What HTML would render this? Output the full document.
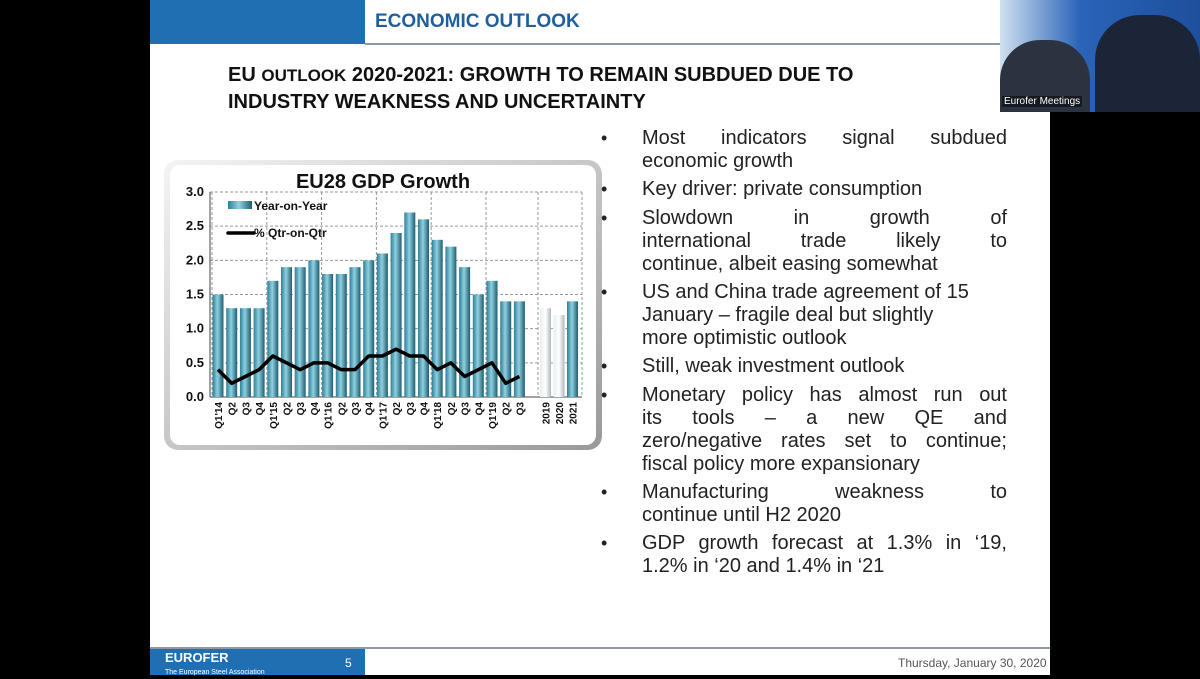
<!DOCTYPE html>
<html><head><meta charset="utf-8"><style>
body{margin:0;width:1200px;height:675px;background:#000;position:relative;overflow:hidden;font-family:"Liberation Sans",sans-serif}
.abs{position:absolute}
#slide{left:150px;top:0;width:900px;height:675px;background:#fff}
.ln{position:absolute;left:642px;width:365px;font-size:20px;line-height:23px;color:#222;white-space:nowrap}
.j{text-align:justify;text-align-last:justify}
.b{position:absolute;left:601px;font-size:18px;color:#222;line-height:23px}
</style></head><body>
<div id="slide" class="abs"></div>
<div class="abs" style="left:150px;top:0;width:215px;height:44px;background:#1f6fb2"></div>
<div class="abs" style="left:365px;top:43px;width:635px;height:2px;background:#8a9aa8"></div>
<div class="abs" style="left:375px;top:11px;font-size:19px;font-weight:bold;color:#1f5f9e;font-family:'Liberation Sans Narrow','Liberation Sans',sans-serif">ECONOMIC OUTLOOK</div>
<div class="abs" style="left:228px;top:62px;font-size:20px;line-height:26px;font-weight:bold;color:#111;font-family:'Liberation Sans Narrow','Liberation Sans',sans-serif">EU <span style="font-size:17px">OUTLOOK</span> 2020-2021: GROWTH TO REMAIN SUBDUED DUE TO<br>INDUSTRY WEAKNESS AND UNCERTAINTY</div>

<div class="abs" style="left:1000px;top:0;width:200px;height:112px;background:linear-gradient(90deg,#cfe0f0,#2a64b8 40%,#1d4f9c)">
 <div class="abs" style="left:0;top:40px;width:90px;height:72px;background:#2b3340;border-radius:40px 40px 0 0"></div>
 <div class="abs" style="left:95px;top:15px;width:105px;height:97px;background:#1c2538;border-radius:45px 45px 0 0"></div>
 <div class="abs" style="left:2px;top:96px;font-size:10px;color:#fff;background:rgba(0,0,0,.5);padding:0 2px">Eurofer Meetings</div>
</div>

<div class="abs" style="left:150px;top:647px;width:900px;height:2px;background:#8a9aa8"></div>
<div class="abs" style="left:150px;top:649px;width:215px;height:26px;background:#1f6fb2"></div>
<div class="abs" style="left:165px;top:652px;color:#fff;font-weight:bold;font-size:13px;line-height:12px">EUROFER<br><span style="font-size:7px;font-weight:normal">The European Steel Association</span></div>
<div class="abs" style="left:345px;top:656px;color:#fff;font-size:12px">5</div>
<div class="abs" style="left:898px;top:656px;color:#555;font-size:12px">Thursday, January 30, 2020</div>

<svg class="abs" style="left:0;top:0" width="1200" height="675">
<defs>
<linearGradient id="fr" x1="0" y1="0" x2="1" y2="1"><stop offset="0" stop-color="#f4f4f4"/><stop offset="1" stop-color="#999"/></linearGradient>
<linearGradient id="bar" x1="0" x2="1"><stop offset="0" stop-color="#2d7f96"/><stop offset=".45" stop-color="#8fd0e0"/><stop offset="1" stop-color="#1c5d70"/></linearGradient>
<linearGradient id="barw" x1="0" x2="1"><stop offset="0" stop-color="#e6eef2"/><stop offset=".5" stop-color="#ffffff"/><stop offset="1" stop-color="#b0b8bc"/></linearGradient>
</defs>
<rect x="164" y="160" width="438" height="290" rx="14" fill="url(#fr)"/>
<rect x="170" y="165" width="426" height="280" rx="10" fill="#fff"/>
<text x="383" y="188" text-anchor="middle" font-size="20" font-weight="bold" fill="#111">EU28 GDP Growth</text>
<g id="g"></g>
</svg>

<div class="b" style="top:127px">•</div>
<div class="ln j" style="top:127px">Most indicators signal subdued</div>
<div class="ln" style="top:150px">economic growth</div>
<div class="b" style="top:178px">•</div>
<div class="ln" style="top:178px">Key driver: private consumption</div>
<div class="b" style="top:207px">•</div>
<div class="ln j" style="top:207px">Slowdown in growth of</div>
<div class="ln j" style="top:230px">international trade likely to</div>
<div class="ln" style="top:253px">continue, albeit easing somewhat</div>
<div class="b" style="top:281px">•</div>
<div class="ln" style="top:281px">US and China trade agreement of 15</div>
<div class="ln" style="top:304px">January – fragile deal but slightly</div>
<div class="ln" style="top:327px">more optimistic outlook</div>
<div class="b" style="top:355px">•</div>
<div class="ln" style="top:355px">Still, weak investment outlook</div>
<div class="b" style="top:384px">•</div>
<div class="ln j" style="top:384px">Monetary policy has almost run out</div>
<div class="ln j" style="top:407px">its tools – a new QE and</div>
<div class="ln j" style="top:430px">zero/negative rates set to continue;</div>
<div class="ln" style="top:453px">fiscal policy more expansionary</div>
<div class="b" style="top:481px">•</div>
<div class="ln j" style="top:481px">Manufacturing weakness to</div>
<div class="ln" style="top:504px">continue until H2 2020</div>
<div class="b" style="top:532px">•</div>
<div class="ln j" style="top:532px">GDP growth forecast at 1.3% in ‘19,</div>
<div class="ln" style="top:555px">1.2% in ‘20 and 1.4% in ‘21</div>

<script>
const qLabels=["Q1'14","Q2","Q3","Q4","Q1'15","Q2","Q3","Q4","Q1'16","Q2","Q3","Q4","Q1'17","Q2","Q3","Q4","Q1'18","Q2","Q3","Q4","Q1'19","Q2","Q3"];
const yoy=[1.5,1.3,1.3,1.3,1.7,1.9,1.9,2.0,1.8,1.8,1.9,2.0,2.1,2.4,2.7,2.6,2.3,2.2,1.9,1.5,1.7,1.4,1.4];
const qoq=[0.4,0.2,0.3,0.4,0.6,0.5,0.4,0.5,0.5,0.4,0.4,0.6,0.6,0.7,0.6,0.6,0.4,0.5,0.3,0.4,0.5,0.2,0.3];
const yLabels=["2019","2020","2021"];
const yearly=[1.3,1.2,1.4];
const yTicks=[0,0.5,1,1.5,2,2.5,3];
const NS="http://www.w3.org/2000/svg",g=document.getElementById('g');
const y0=397,y3=192,xL=210,xR=582;
const Y=v=>y0-(v/3)*(y0-y3);
const step=13.7;
const XQ=i=>218+i*step;
const XA=i=>545.5+i*13.5;
function mk(t,a,p){const e=document.createElementNS(NS,t);for(const k in a)e.setAttribute(k,a[k]);(p||g).appendChild(e);return e;}
yTicks.forEach(v=>{
 const l=mk('line',{x1:xL,x2:xR,y1:Y(v),y2:Y(v),stroke:v?'#999':'#444','stroke-dasharray':v?'3,2':'','stroke-width':1});
 
 const t=mk('text',{x:204,y:Y(v)+4,'text-anchor':'end','font-size':13,'font-weight':'bold',fill:'#111'});t.textContent=v.toFixed(1);
 
});
for(let i=0;i<=24;i+=4){const x=i<24?XQ(i)-6:538;const l=mk('line',{x1:x,x2:x,y1:y3,y2:y0,stroke:'#999','stroke-dasharray':'3,2'});
 }
mk('line',{x1:xR,x2:xR,y1:y3,y2:y0,stroke:'#999','stroke-dasharray':'3,2'});
yoy.forEach((v,i)=>{const r=mk('rect',{x:XQ(i)-5.5,y:Y(v),width:11,height:y0-Y(v),fill:'url(#bar)'});
 });
yearly.forEach((v,i)=>{const r=mk('rect',{x:XA(i)-5.5,y:Y(v),width:11,height:y0-Y(v),fill:i<2?'url(#barw)':'url(#bar)'});
 });
const p1=qoq.map((v,i)=>XQ(i)+','+Y(v)).join(' ');
const ql=mk('polyline',{points:p1,fill:'none',stroke:'#000','stroke-width':3.5,'stroke-linejoin':'round'});

mk('line',{x1:xL,x2:xL,y1:y3,y2:y0,stroke:'#444'});
qLabels.forEach((s,i)=>{const t=mk('text',{transform:`translate(${XQ(i)+4},${y0+5}) rotate(-90)`,'text-anchor':'end','font-size':10,'font-weight':'bold',fill:'#111'});t.textContent=s;
 });
yLabels.forEach((s,i)=>{const t=mk('text',{transform:`translate(${XA(i)+4},${y0+5}) rotate(-90)`,'text-anchor':'end','font-size':10,'font-weight':'bold',fill:'#111'});t.textContent=s;
 });
const lr=mk('rect',{x:228,y:201,width:24,height:8,fill:'url(#bar)'});
const lt=mk('text',{x:254,y:210,'font-size':12,'font-weight':'bold',fill:'#111'});lt.textContent='Year-on-Year';
const ll=mk('line',{x1:228,x2:254,y1:233,y2:233,stroke:'#000','stroke-width':3.5,'stroke-linecap':'round'});
const lt2=mk('text',{x:254,y:237,'font-size':12,'font-weight':'bold',fill:'#111'});lt2.textContent='% Qtr-on-Qtr';
</script>
</body></html>
